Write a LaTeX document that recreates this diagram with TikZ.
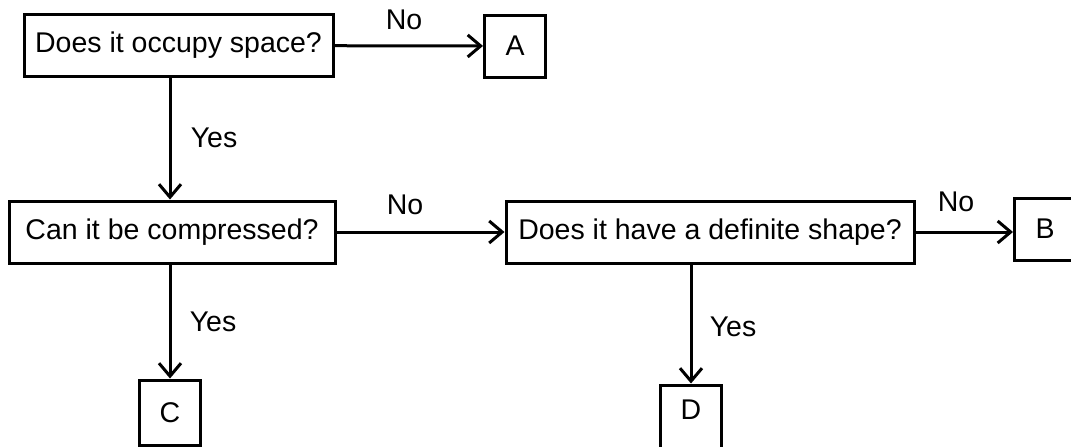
\documentclass[tikz,border=0pt]{standalone}
\usepackage{fontspec}
\setmainfont{Liberation Sans}
\usetikzlibrary{arrows.meta}
\tikzset{
  qbox/.style={draw, line width=3pt, minimum height=62pt, inner sep=0pt, font=\fontsize{28.5}{32}\selectfont},
  abox/.style={qbox, minimum width=61pt},
  arr/.style={line width=3pt, -{Straight Barb[length=13pt,width=22pt,line width=3pt]}},
  lbl/.style={font=\fontsize{28.5}{32}\selectfont}
}

\begin{document}
\begin{tikzpicture}[x=1pt,y=-1pt]
  \useasboundingbox (0,0) rectangle (1071,447);
  \node[qbox, minimum width=309pt] (occupy) at (178.5,45.5) {Does it occupy space?};
  \node[abox] (a) at (515,46) {A};
  \node[qbox, minimum width=326pt] (compress) at (172,232) {Can it be compressed?};
  \node[qbox, minimum width=408pt] (shape) at (710,232) {Does it have a definite shape?};
  \node[abox] (b) at (1045,229) {B};
  \node[abox, minimum height=65pt] (c) at (170,412.5) {C};
  \node[abox, minimum height=0pt, text height=34pt, text depth=36pt, anchor=base] (d) at (691,419) {D};
  % answers on the arrows
  \foreach \n/\x/\y/\t in {no1/404/20/No, no2/405/205/No, no3/956/202/No,
      yes1/214/138/Yes, yes2/213/322/Yes, yes3/733/327/Yes}
    \node[lbl] (\n) at (\x,\y) {\t};
  \draw[arr] (occupy) -- (a);
  \draw[arr] (compress) -- (shape);
  \draw[arr] (shape.east) -- (shape.east -| b.west);
  \draw[arr] (occupy.south -| c) -- (compress.north -| c);
  \draw[arr] (compress.south -| c) -- (c);
  \draw[arr] (shape.south -| d) -- (d);
\end{tikzpicture}
\end{document}
